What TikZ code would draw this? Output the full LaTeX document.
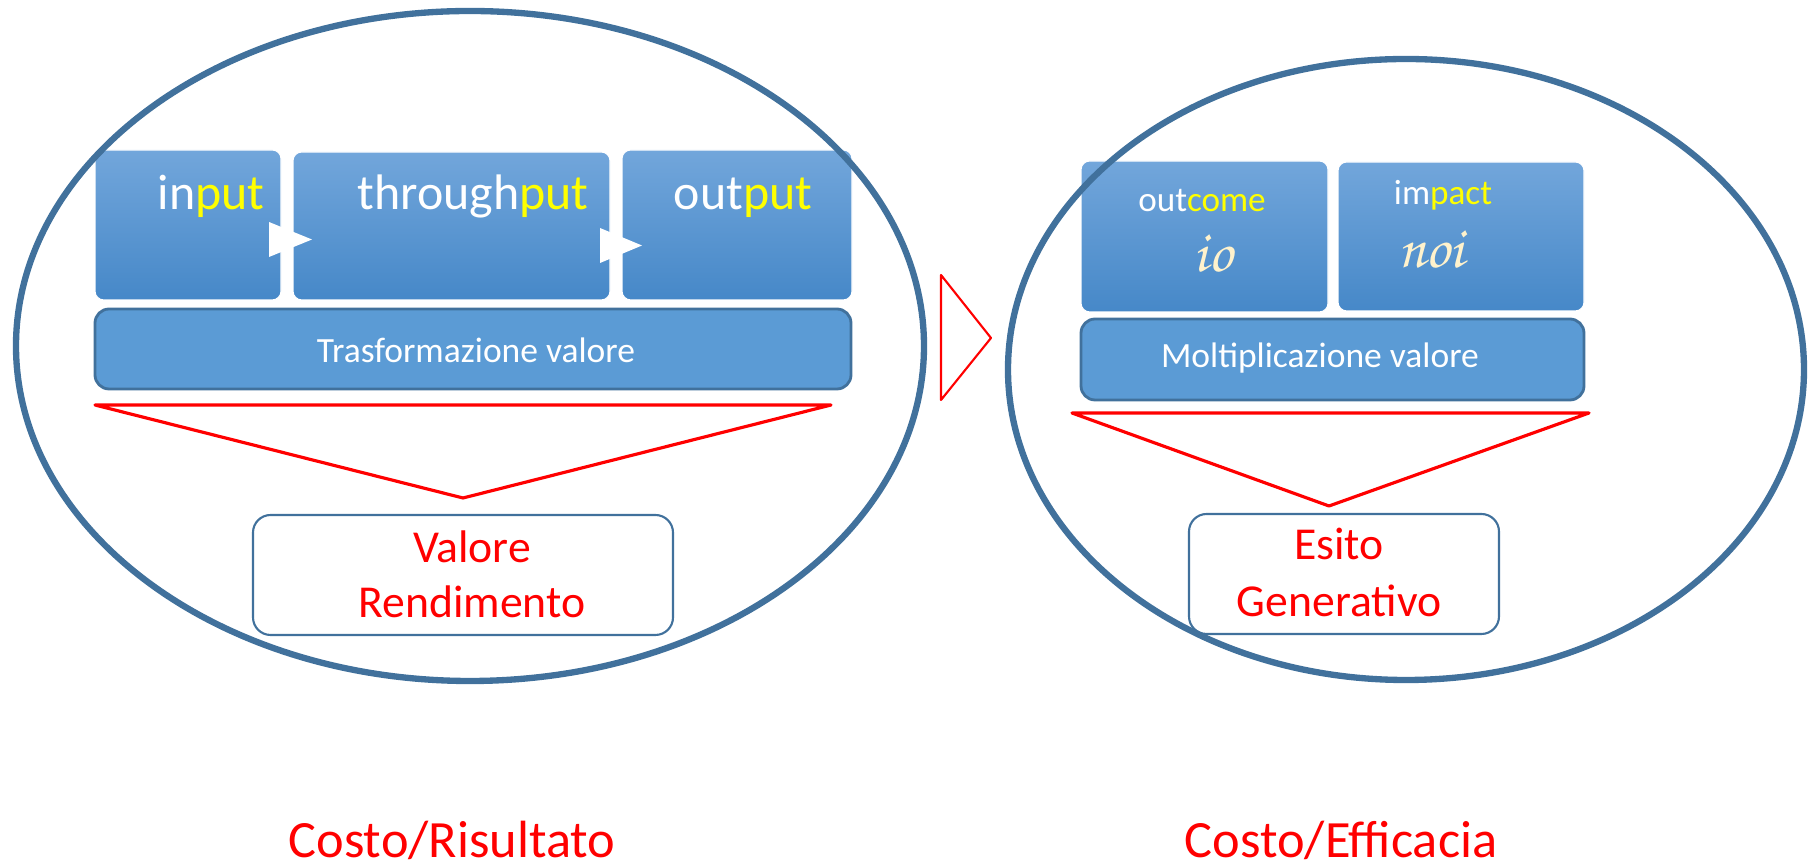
\documentclass[tikz,border=0pt]{standalone}
\usepackage[T1]{fontenc}
\usepackage{fontspec}
\setmainfont{Carlito}
\definecolor{rim}{RGB}{65,113,156}
\definecolor{boxtop}{RGB}{114,166,219}
\definecolor{boxbot}{RGB}{70,136,200}
\definecolor{boxflat}{RGB}{91,155,213}
\definecolor{hl}{RGB}{255,255,0}
\definecolor{cream}{RGB}{255,242,204}
\newcommand{\chancery}{\fontencoding{T1}\fontfamily{pzc}\fontseries{mb}\fontshape{it}\selectfont}

\begin{document}
\begin{tikzpicture}[
  stage/.style={rectangle, rounded corners=2.5pt, top color=boxtop, bottom color=boxbot, draw=white, line width=0.3pt, inner sep=0pt},
  band/.style={rectangle, rounded corners=4pt, fill=boxflat, draw=rim, line width=0.8pt, inner sep=0pt},
  result/.style={rectangle, rounded corners=5pt, fill=white, draw=rim, line width=0.6pt, inner sep=0pt},
  funnel/.style={draw=red, line width=0.9pt, line join=round},
  oval/.style={draw=rim, line width=1.8pt},
  wtext/.style={text=white, anchor=base, inner sep=0pt},
  rtext/.style={text=red, anchor=base, inner sep=0pt}
  ]
\useasboundingbox (0,0) rectangle (18.09,8.66);
%\draw [ultra thin, lightgray] (0,0) grid (18,8);
% left: Costo/Risultato
\node [stage, minimum width=1.86cm, minimum height=1.50cm] (inbox) at (1.88,6.41) {};
\node [stage, minimum width=3.17cm, minimum height=1.48cm] (thbox) at (4.515,6.40) {};
\node [stage, minimum width=2.30cm, minimum height=1.50cm] (outbox) at (7.37,6.41) {};
\fill [white] (2.69,6.44) -- (3.12,6.265) -- (2.69,6.09) -- cycle;
\fill [white] (6.00,6.38) -- (6.42,6.205) -- (6.00,6.03) -- cycle;
\node [wtext, font=\fontsize{14.2}{17}\selectfont] (input) at (2.11,6.56) {in\textcolor{hl}{put}};
\node [wtext, font=\fontsize{14.2}{17}\selectfont] (through) at (4.73,6.56) {through\textcolor{hl}{put}};
\node [wtext, font=\fontsize{14.2}{17}\selectfont] (output) at (7.43,6.56) {out\textcolor{hl}{put}};
\node [band, minimum width=7.56cm, minimum height=0.80cm] (trasf) at (4.73,5.17) {};
\node [wtext, font=\fontsize{10.1}{12}\selectfont] (trasfT) at (4.76,5.03) {Trasformazione valore};
\draw [funnel] (0.95,4.61) -- (8.31,4.61) -- (4.63,3.68) -- cycle;
\node [result, minimum width=4.20cm, minimum height=1.20cm] (valore) at (4.63,2.91) {};
\node [rtext, font=\fontsize{13}{16}\selectfont] (valoreA) at (4.72,3.03) {Valore};
\node [rtext, font=\fontsize{13}{16}\selectfont] (valoreB) at (4.72,2.48) {Rendimento};
\node [rtext, font=\fontsize{14.9}{18}\selectfont] (risultato) at (4.52,0.08) {Costo/Risultato};
% middle
\draw [funnel, line width=0.6pt] (9.41,5.91) -- (9.91,5.28) -- (9.41,4.66) -- cycle;
% right: Costo/Efficacia
\node [stage, minimum width=2.47cm, minimum height=1.51cm] (outcomebox) at (12.045,6.295) {};
\node [stage, minimum width=2.46cm, minimum height=1.49cm] (impactbox) at (14.61,6.295) {};
\node [wtext, font=\fontsize{10}{12}\selectfont] (outcome) at (12.02,6.54) {out\textcolor{hl}{come}};
\node [wtext, font=\fontsize{10}{12}\selectfont] (impact) at (14.43,6.61) {im\textcolor{hl}{pact}};
\node [anchor=base, text=cream, inner sep=0pt, font=\fontsize{17}{20}\chancery] (io) at (12.13,5.94) {io};
\node [anchor=base, text=cream, inner sep=0pt, font=\fontsize{17}{20}\chancery] (noi) at (14.31,5.98) {noi};
\node [band, minimum width=5.03cm, minimum height=0.81cm] (molt) at (13.325,5.065) {};
\node [wtext, font=\fontsize{10.1}{12}\selectfont] (moltT) at (13.20,4.98) {Moltiplicazione valore};
\draw [funnel] (10.72,4.53) -- (15.89,4.53) -- (13.29,3.60) -- cycle;
\node [result, minimum width=3.10cm, minimum height=1.20cm] (esito) at (13.44,2.92) {};
\node [rtext, font=\fontsize{13}{16}\selectfont] (esitoA) at (13.39,3.06) {Esito};
\node [rtext, font=\fontsize{13}{16}\selectfont] (esitoB) at (13.39,2.49) {Generativo};
\node [rtext, font=\fontsize{14.9}{18}\selectfont] (efficacia) at (13.41,0.08) {Costo/Efficacia};
% the two ovals on top
\draw [oval] (4.70,5.20) ellipse [x radius=4.54, y radius=3.35];
\draw [oval] (14.06,4.965) ellipse [x radius=3.98, y radius=3.105];
\end{tikzpicture}
\end{document}
